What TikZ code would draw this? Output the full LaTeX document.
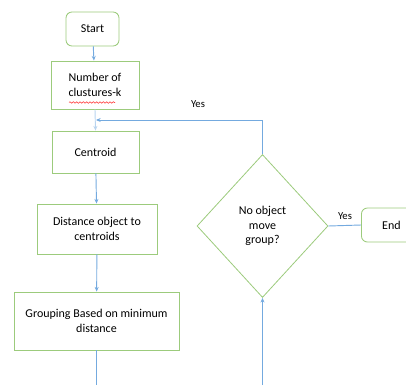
\documentclass[tikz,border=0pt]{standalone}
\usepackage{fontspec}
\setmainfont{Carlito}
\usetikzlibrary{shapes.geometric,arrows.meta,decorations.pathmorphing}
\definecolor{boxgreen}{HTML}{9CCB7C}
\definecolor{linkblue}{HTML}{74AADF}
\tikzset{
  process/.style={draw=boxgreen, line width=0.65pt, fill=white, align=center, font=\fontsize{9}{11}\selectfont},
  terminal/.style={process, rounded corners=4.5pt},
  decision/.style={process, diamond, line width=0.6pt, minimum width=98.25pt, minimum height=107.25pt},
  link/.style={draw=linkblue, line width=0.7pt, -{Stealth[length=3.5pt,width=3pt]}},
  plain/.style={draw=linkblue, line width=0.7pt},
  label/.style={font=\fontsize{8}{10}\selectfont}
}
\begin{document}
\begin{tikzpicture}[x=0.75pt,y=-0.75pt]
            \useasboundingbox (0,0) rectangle (406,385);

            % Boxes on the left
            \node[terminal, minimum width=39.75pt, minimum height=25.5pt] (start) at (92.5,29) {Start};
            \node[process, minimum width=66pt, minimum height=36pt] (clusters) at (95,85) {Number of\\clustures-k};
            \node[process, minimum width=65.25pt, minimum height=31.5pt] (centroid) at (95.5,152) {Centroid};
            \node[process, minimum width=90pt, minimum height=37.5pt] (distance) at (97,229) {Distance object to\\centroids};
            \node[process, minimum width=123.75pt, minimum height=43.5pt] (grouping) at (96.5,321) {Grouping Based on minimum\\distance};

            % Decision and end
            \node[decision] (check) at (262.5,226) {No object\\move\\group?};
            \node[terminal, minimum width=45pt, minimum height=25.5pt, anchor=west] (finish) at (361,225) {End};

            % Spell check underline
            \draw[red!80, line width=0.4pt, decorate, decoration={snake, amplitude=0.6pt, segment length=2.5pt}] (69,102.5) -- (115,102.5);

            % Free ends at the bottom edge
            \coordinate (groupout) at (96.5,385);
            \coordinate (checkin) at (262.5,385);
            \coordinate (corner) at (262.5,120);
            \coordinate (joint) at (96,120);

            % Connectors
            \draw[link] (start) -- (clusters);
            \draw[link, draw=linkblue!50] (clusters.south) -- (centroid.north);
            \draw[link] (centroid) -- (distance);
            \draw[link] (distance) -- (grouping);
            \draw[plain] (grouping.south) -- (groupout);
            \draw[link] (checkin) -- (check.south);
            \draw[link] (check.north) -- (corner) -- (joint);
            \draw[plain] (check.east) -- (finish.west);

            % Labels
            \node[label] (yesloop) at (198,104) {Yes};
            \node[label] (yesend) at (345,216) {Yes};
\end{tikzpicture}
\end{document}
